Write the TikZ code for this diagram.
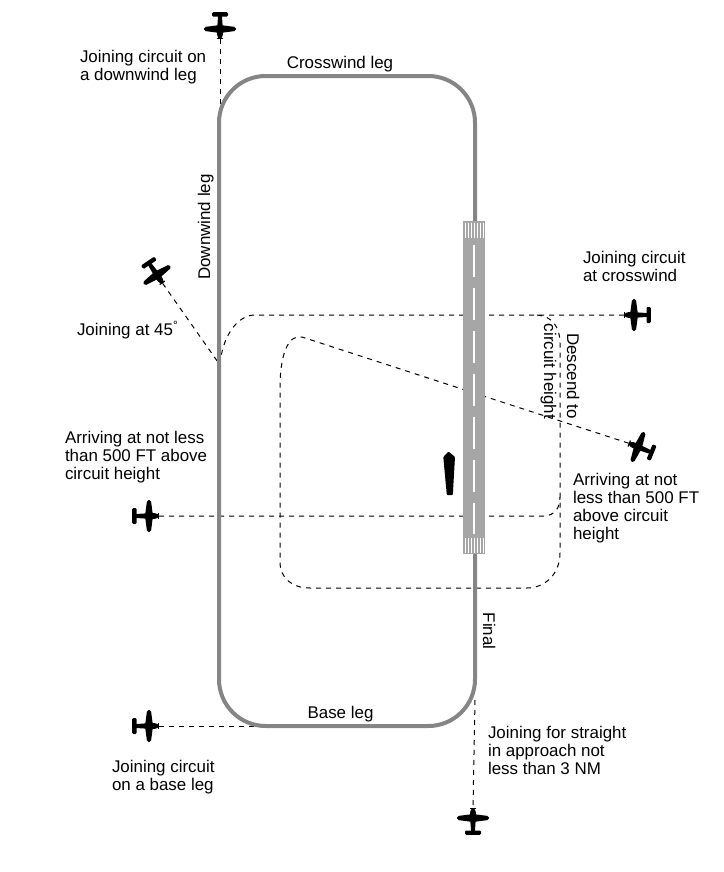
\documentclass[tikz,border=0pt]{standalone}
\usepackage{fontspec}
\setmainfont{Liberation Sans}
\definecolor{circuitgray}{HTML}{858585}
\definecolor{runwaygray}{HTML}{A6A6A6}
\tikzset{
  lbl/.style={inner sep=0pt, outer sep=0pt, font=\fontsize{12.7}{13.5}\selectfont, text=black},
  joinpath/.style={draw=black, line width=0.75pt, dash pattern=on 3.75pt off 3.75pt},
  circuitline/.style={draw=circuitgray, line width=3pt},
  threshold/.style={draw=white, line width=0.7pt},
  plane/.pic={
    \fill[rounded corners=0.8pt] (-15,-1.8) -- (2,-3) -- (7,-2.7) -- (9.5,-1.3) -- (9.5,1.3) -- (7,2.7) -- (2,3) -- (-15,1.8) -- cycle;
    \fill[rounded corners=1.2pt] (-1.9,-16) -- (1.9,-16) -- (4,0) -- (1.9,16) -- (-1.9,16) -- (-4,0) -- cycle;
    \fill[rounded corners=0.8pt] (-16.8,-8) rectangle (-12.5,8);
    \fill (8.8,-3.2) rectangle (10,3.2);
    \coordinate (-nose) at (10,0);
  }
}
\begin{document}
\begin{tikzpicture}[x=0.75pt, y=-0.75pt]
\useasboundingbox (0,0) rectangle (724,872);
% planes
\pic[rotate=-90] (P1) at (220,29) {plane};
\pic[rotate=-56] (P2) at (157,275) {plane};
\pic[rotate=180] (P3) at (634,315) {plane};
\pic[rotate=158] (P4) at (638,447) {plane};
\pic (P5) at (149,516) {plane};
\pic (P6) at (149,726) {plane};
\pic[rotate=90] (P7) at (473,818) {plane};
% junction coordinates
\coordinate (J45) at (220,365);
\coordinate (DWtop) at (220,118);
\coordinate (BLend) at (262,726);
\coordinate (FinStart) at (475,700);
% dashed joining paths
\draw[joinpath] (P1-nose) -- (DWtop);
\draw[joinpath] (P2-nose) -- (J45);
\draw[joinpath] (P3-nose) -- (254,315) .. controls (236,316) and (222,338) .. (J45);
\draw[joinpath] (P4-nose) -- (302,337) .. controls (288,334) and (280,355) .. (280,388)
   -- (280,562) .. controls (280,578) and (292,588) .. (310,588)
   -- (527,588) .. controls (545,588) and (560,574) .. (560,553)
   -- (560,343) .. controls (560,327) and (552,316) .. (537,315);
\draw[joinpath] (P5-nose) -- (545,516) .. controls (554,515) and (560,509) .. (560,497);
\draw[joinpath] (P6-nose) -- (BLend);
\draw[joinpath] (FinStart) -- (P7-nose);
% circuit
\draw[circuitline, rounded corners=35pt] (219,76) rectangle (475,726);
% runway
\fill[runwaygray] (463,221) rectangle (485,554);
\foreach \sx in {465.5,468.5,471.5,474.5,477.5,480.5,483.2}{
  \draw[threshold] (\sx,222.5) -- (\sx,238);
  \draw[threshold] (\sx,538) -- (\sx,552.5);
}
\draw[white, line width=1.6pt, dash pattern=on 24pt off 8.25pt] (474,245) -- (474,534);
% wind indicator
\fill[black, rounded corners=0.6pt] (448.5,451.5) -- (455,457) -- (452.8,495) -- (446.8,495) -- (443.3,457) -- cycle;
% labels
\node[lbl, anchor=base] (tcw) at (340,68) {Crosswind leg};
\node[lbl, anchor=base] (tbl) at (340.5,718) {Base leg};
\node[lbl, anchor=base, rotate=90] (tdw) at (210,227) {Downwind leg};
\node[lbl, anchor=base, rotate=-90] (tfin) at (483,631) {Final};
\node[lbl, anchor=north east, rotate=-90, align=right, font=\fontsize{12.7}{17.25}\selectfont] (tdesc) at (579.5,419) {Descend to\\circuit height};
\node[lbl, anchor=north west, align=left] (t1) at (80,50) {Joining circuit on\\a downwind leg};
\node[lbl, anchor=north west, align=left] (t3) at (583,251) {Joining circuit\\at crosswind};
\node[lbl, anchor=base west] (t2) at (77,335) {Joining at 45\textsuperscript{°}};
\node[lbl, anchor=north west, align=left] (t5) at (65,431) {Arriving at not less\\than 500 FT above\\circuit height};
\node[lbl, anchor=north west, align=left] (t4) at (573,473) {Arriving at not\\less than 500 FT\\above circuit\\height};
\node[lbl, anchor=north west, align=left] (t6) at (112,760) {Joining circuit\\on a base leg};
\node[lbl, anchor=north west, align=left] (t7) at (488,726) {Joining for straight\\in approach not\\less than 3 NM};
\end{tikzpicture}
\end{document}
